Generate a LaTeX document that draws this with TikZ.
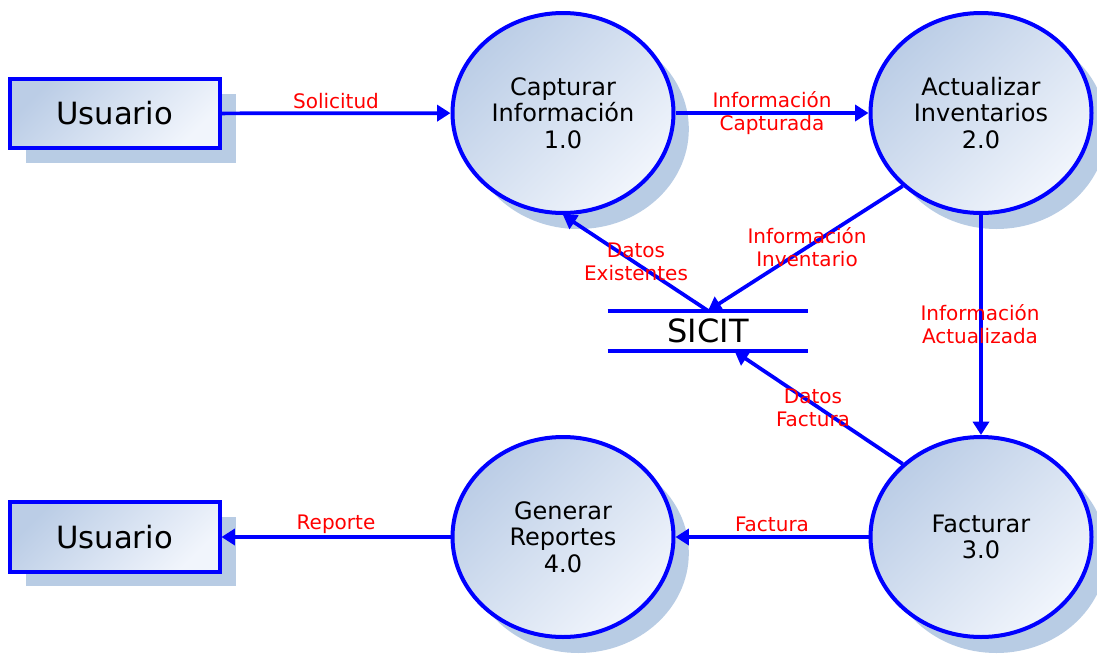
\documentclass[tikz,border=0pt]{standalone}
\usepackage{fontspec}
\setmainfont{DejaVu Sans}
\usetikzlibrary{arrows.meta,shapes.geometric,shadows}

\definecolor{flowblue}{RGB}{0,0,255}
\definecolor{shadowblue}{RGB}{184,204,228}
\definecolor{filldark}{RGB}{187,205,230}
\definecolor{filllight}{RGB}{241,245,252}

\begin{document}
\begin{tikzpicture}[x=0.75pt,y=-0.75pt]

	\tikzset{
		entity/.style={rectangle, draw=flowblue, line width=3pt,
			left color=filldark, right color=filllight, shading angle=45,
			drop shadow={shadow xshift=12pt, shadow yshift=-11pt, fill=shadowblue, opacity=1},
			minimum width=157.5pt, minimum height=52pt, inner sep=0pt,
			font=\fontsize{23}{26}\selectfont},
		process/.style={ellipse, draw=flowblue, line width=3pt,
			left color=filldark, right color=filllight, shading angle=45,
			drop shadow={shadow xshift=11.5pt, shadow yshift=-12pt, fill=shadowblue, opacity=1},
			minimum width=165.75pt, minimum height=150pt, inner sep=0pt, align=center,
			font=\fontsize{18}{20}\selectfont},
		flow/.style={draw=flowblue, line width=2.8pt, -{Triangle[length=10pt,width=12pt]}},
		flowlabel/.style={text=red, align=center, inner sep=0pt,
			font=\fontsize{15}{17.25}\selectfont}
	}

	\useasboundingbox (0,0) rectangle (1097,654);

	% external entities
	\node[entity] (usr1) at (114.5,113.5) {Usuario};
	\node[entity] (usr2) at (114.5,537) {Usuario};

	% processes
	\node[process] (cap) at (563,113) {Capturar\\Información\\1.0};
	\node[process] (act) at (981,113) {Actualizar\\Inventarios\\2.0};
	\node[process] (fac) at (981,537) {Facturar\\3.0};
	\node[process] (gen) at (563,537) {Generar\\Reportes\\4.0};

	% data store
	\node[minimum width=150pt, minimum height=30pt, inner sep=0pt,
		font=\fontsize{24}{26}\selectfont] (sicit) at (708,331) {SICIT};
	\draw[flowblue, line width=2.8pt] (sicit.north west) -- (sicit.north east);
	\draw[flowblue, line width=2.8pt] (sicit.south west) -- (sicit.south east);
	\coordinate (sicitin) at ([xshift=20pt]sicit.south);

	% data flows
	\draw[flow] (usr1) -- (cap);
	\draw[flow] (cap) -- (act);
	\draw[flow] (act.223) -- (sicit.north);
	\draw[flow] (sicit.north) -- (cap.south);
	\draw[flow] (act) -- (fac);
	\draw[flow] (fac.137) -- (sicitin);
	\draw[flow] (fac) -- (gen);
	\draw[flow] (gen) -- (usr2);

	\node[flowlabel] (lsol) at (336,101) {Solicitud};
	\node[flowlabel] (lcap) at (772,113) {Información\\Capturada};
	\node[flowlabel] (linv) at (807,247) {Información\\Inventario};
	\node[flowlabel] (lexi) at (636,262) {Datos\\Existentes};
	\node[flowlabel] (lact) at (980,324) {Información\\Actualizada};
	\node[flowlabel] (ldfa) at (813,408) {Datos\\Factura};
	\node[flowlabel] (lfac) at (772,524) {Factura};
	\node[flowlabel] (lrep) at (336,524) {Reporte};

\end{tikzpicture}
\end{document}
